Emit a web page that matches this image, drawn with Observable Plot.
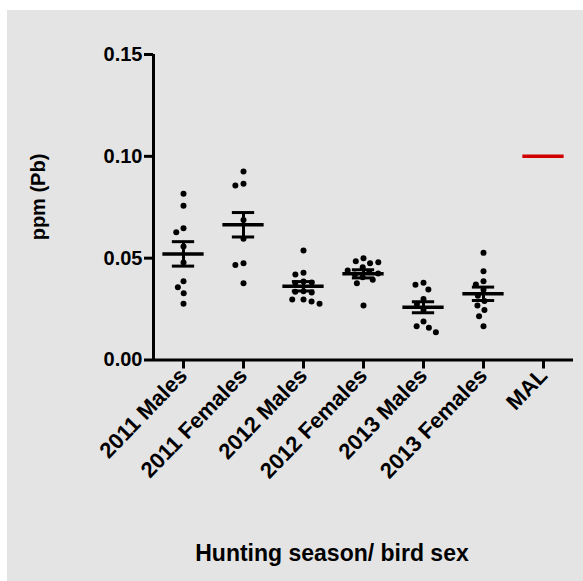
<!DOCTYPE html>
<html><head><meta charset="utf-8">
<script src="https://cdn.jsdelivr.net/npm/d3@7"></script>
<script src="https://cdn.jsdelivr.net/npm/@observablehq/plot@0.6"></script>
<style>
body{margin:0;background:#fff;font-family:"Liberation Sans",Arial,sans-serif;}
#bg{position:absolute;left:7px;top:10px;width:576px;height:571px;background:#e4e4e4;}
#chart{position:absolute;left:0;top:0;}
.lab{position:absolute;font-weight:bold;color:#000;text-align:center;white-space:nowrap;}
</style></head><body>
<div id="bg"></div>
<div id="chart"></div>
<div class="lab" id="xlab" style="left:132px;top:542px;width:400px;font-size:23px;line-height:23px">Hunting season/ bird sex</div>
<div class="lab" id="ylab" style="left:-62.5px;top:187px;width:200px;font-size:20px;line-height:20px;transform:rotate(-90deg)">ppm (Pb)</div>
<script>
const groups = ["2011 Males", "2011 Females", "2012 Males", "2012 Females", "2013 Males", "2013 Females", "MAL"];
const yTicks = [0, 0.05, 0.10, 0.15];

const males2011   = [0.0816, 0.0757, 0.0647, 0.0627, 0.0557, 0.0479, 0.0387, 0.0357, 0.0328, 0.0276];
const females2011 = [0.0925, 0.0865, 0.0857, 0.0688, 0.0595, 0.0475, 0.0467, 0.0377];
const males2012   = [0.0538, 0.0428, 0.0420, 0.0385, 0.0380, 0.0378, 0.0338, 0.0335, 0.0332, 0.0297, 0.0297, 0.0287, 0.0276];
const females2012 = [0.0500, 0.0485, 0.0475, 0.0480, 0.0456, 0.0431, 0.0406, 0.0420, 0.0394, 0.0377, 0.0268, 0.0425, 0.0440];
const males2013   = [0.0379, 0.0369, 0.0346, 0.0300, 0.0275, 0.0245, 0.0189, 0.0166, 0.0158, 0.0136];
const females2013 = [0.0526, 0.0436, 0.0387, 0.0371, 0.0345, 0.0315, 0.0290, 0.0268, 0.0246, 0.0215, 0.0166];

const means = [0.0521, 0.0664, 0.0362, 0.0423, 0.0259, 0.0325, 0.10];
const sems  = [0.0060, 0.0060, 0.0023, 0.0020, 0.0027, 0.0033, 0];

const series = [males2011, females2011, males2012, females2012, males2013, females2013];
const points = series.flatMap((vals, i) => vals.map(v => ({group: groups[i], value: v})));
const stats = groups.map((g, i) => ({group: g, mean: means[i], lo: means[i] - sems[i], hi: means[i] + sems[i]}));
const blackStats = stats.filter(d => d.group !== "MAL");
const malStats = stats.filter(d => d.group === "MAL");

const W = 583, ML = 150, MR = 8;
const band = (W - ML - MR) / groups.length;
const meanInset = (band - 42) / 2;
const capInset = (band - 23) / 2;

const chart = Plot.plot({
  width: W, height: 581,
  marginLeft: ML, marginRight: MR, marginTop: 54, marginBottom: 221.5,
  style: {background: "transparent", fontFamily: "Liberation Sans, Arial, sans-serif", color: "#000", overflow: "visible"},
  fx: {domain: groups, padding: 0},
  x: {domain: [-1, 1], axis: null},
  y: {domain: [0, 0.15]},
  marks: [
    Plot.ruleY([0], {stroke: "#000", strokeWidth: 3}),
    Plot.ruleX([{group: groups[0]}], {fx: "group", x: () => -1, y1: () => 0, y2: () => 0.15, stroke: "#000", strokeWidth: 3}),
    Plot.axisY({ticks: yTicks, tickFormat: d3.format(".2f"), tickSize: 9, tickPadding: 2, fontSize: 20, fontWeight: "bold", strokeWidth: 3, label: null}),
    Plot.axisFx({anchor: "bottom", tickRotate: -46, tickSize: 9, tickPadding: 3, fontSize: 22, fontWeight: "bold", strokeWidth: 3, label: null}),
    Plot.dot(points, Plot.dodgeX({anchor: "middle", padding: 2.3}, {fx: "group", y: "value", r: 3, fill: "#000"})),
    Plot.tickY(blackStats, {fx: "group", y: "mean", insetLeft: meanInset, insetRight: meanInset, stroke: "#000", strokeWidth: 3.5}),
    Plot.tickY(blackStats, {fx: "group", y: "hi", insetLeft: capInset, insetRight: capInset, stroke: "#000", strokeWidth: 3}),
    Plot.tickY(blackStats, {fx: "group", y: "lo", insetLeft: capInset, insetRight: capInset, stroke: "#000", strokeWidth: 3}),
    Plot.ruleX(blackStats, {fx: "group", x: () => 0, y1: "lo", y2: "hi", stroke: "#000", strokeWidth: 3}),
    Plot.tickY(malStats, {fx: "group", y: "mean", insetLeft: meanInset, insetRight: meanInset, stroke: "#d00000", strokeWidth: 3.5})
  ]
});
document.getElementById("chart").append(chart);
</script>
</body></html>
